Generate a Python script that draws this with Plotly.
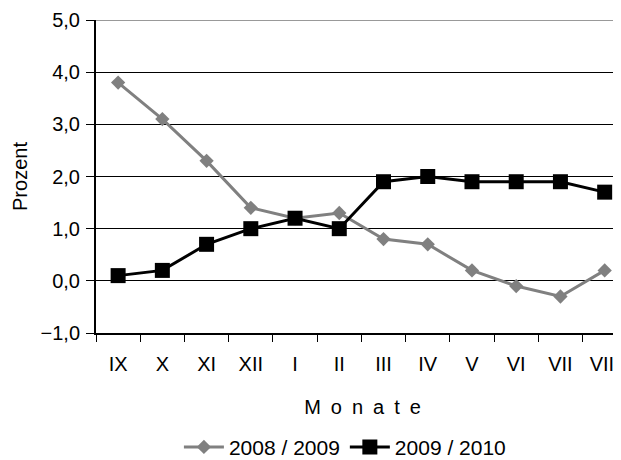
import plotly.graph_objects as go

months = ["IX", "X", "XI", "XII", "I", "II", "III", "IV", "V", "VI", "VII", "VIII"]
s2008_2009 = [3.8, 3.1, 2.3, 1.4, 1.2, 1.3, 0.8, 0.7, 0.2, -0.1, -0.3, 0.2]
s2009_2010 = [0.1, 0.2, 0.7, 1.0, 1.2, 1.0, 1.9, 2.0, 1.9, 1.9, 1.9, 1.7]
y_ticks = [-1.0, 0.0, 1.0, 2.0, 3.0, 4.0, 5.0]

FONT = "Liberation Sans, Arial, sans-serif"
FS = 20

fig = go.Figure()
fig.add_trace(go.Scatter(
    x=months, y=s2008_2009, name="2008 / 2009", mode="lines+markers",
    line=dict(color="#808080", width=3),
    marker=dict(symbol="diamond", size=11, color="#808080"),
))
fig.add_trace(go.Scatter(
    x=months, y=s2009_2010, name="2009 / 2010", mode="lines+markers",
    line=dict(color="#000000", width=3),
    marker=dict(symbol="square", size=15, color="#000000"),
))

fig.update_layout(
    width=621, height=460,
    margin=dict(l=88, r=0, t=12, b=133),
    paper_bgcolor="white", plot_bgcolor="white",
    separators=",.",
    font=dict(family=FONT, size=FS, color="black"),
    showlegend=True,
    legend=dict(orientation="h", x=0.467, xanchor="center", y=-0.365, yanchor="middle",
                font=dict(size=21), itemwidth=40, tracegroupgap=0),
    xaxis=dict(
        type="category", range=[-0.5, 11.55], automargin=False,
        showline=True, linecolor="black", linewidth=2,
        ticks="outside", ticklen=7, tickcolor="black", tickwidth=1,
        tickson="boundaries", showgrid=False,
        title=dict(text="M\u2002o\u2002n\u2002a\u2002t\u2002e", font=dict(size=FS), standoff=26),
        ticklabelstandoff=12,
    ),
    yaxis=dict(
        range=[-1.0, 5.0], tickvals=y_ticks, tickformat=".1f", automargin=False,
        showline=True, linecolor="black", linewidth=2,
        ticks="outside", ticklen=8, tickcolor="black", tickwidth=1,
        showgrid=True, gridcolor="black", gridwidth=1, zeroline=False,
        title=dict(text="Prozent", font=dict(size=FS), standoff=8),
        ticklabelstandoff=2,
    ),
    shapes=[dict(type="line", xref="paper", yref="y", x0=0, x1=1, y0=5.0, y1=5.0,
                 line=dict(color="#999999", width=2))],
)

fig.write_html(
    "out.html",
    post_script="document.documentElement.style.overflow='hidden';document.body.style.overflow='hidden';",
)
